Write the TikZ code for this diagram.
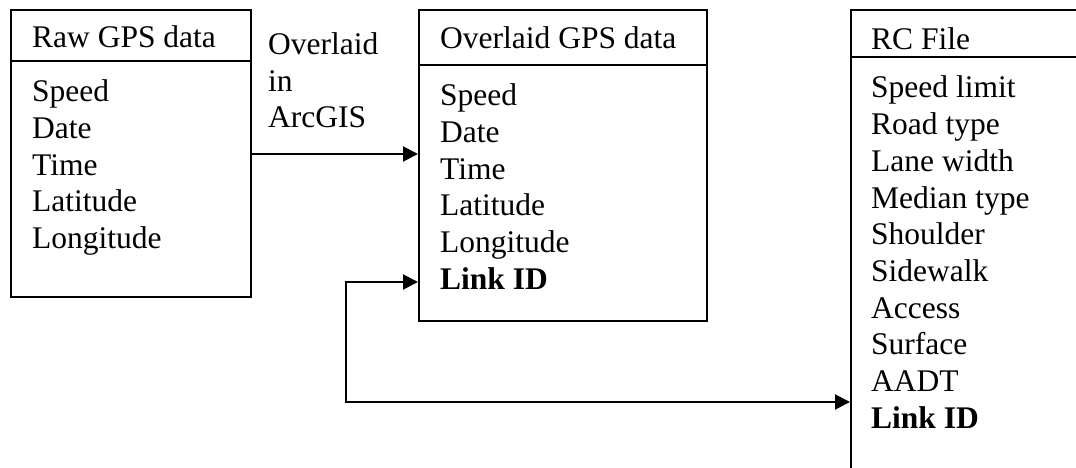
\documentclass[tikz,border=0pt]{standalone}
\usepackage{fontspec}
\setmainfont{Liberation Serif}
\usetikzlibrary{arrows.meta}
\begin{document}
\begin{tikzpicture}[x=1pt,y=-1pt,
  boxline/.style={line width=2pt},
  tbox/.style={draw, line width=2pt, rectangle, inner sep=0pt, anchor=north west},
  lbl/.style={anchor=base west, inner sep=0pt, font=\fontsize{31.5}{36.6}\selectfont},
  tip/.tip={Triangle[length=15pt,width=15pt]},
  conn/.style={line width=2pt, -tip},
  dconn/.style={line width=2pt, tip-tip}]
\path[use as bounding box] (0,0) rectangle (1076,468);
\clip (0,0) rectangle (1076,468);
% boxes
\node[tbox, minimum width=240pt, minimum height=287pt] (raw) at (10,9) {};
\node[tbox, minimum width=288pt, minimum height=311pt] (ovl) at (418,9) {};
\node[tbox, minimum width=300pt, minimum height=520pt] (rc) at (850,9) {};
% dividers
\draw[boxline] (raw.west |- 0,61) -- (raw.east |- 0,61);
\draw[boxline] (ovl.west |- 0,65) -- (ovl.east |- 0,65);
\draw[boxline] (rc.west |- 0,57) -- (rc.east |- 0,57);
% titles
\node[lbl] (rawT) at (32,48) {Raw GPS data};
\node[lbl] (ovlT) at (440,49) {Overlaid GPS data};
\node[lbl] (rcT) at (871,50) {RC File};
% items
\foreach \t [count=\i from 0] in {Speed,Date,Time,Latitude,Longitude}
  \node[lbl] (raw\i) at (32,{102+36.6*\i}) {\t};
\foreach \t [count=\i from 0] in {Speed,Date,Time,Latitude,Longitude,{\textbf{Link ID}}}
  \node[lbl] (ovl\i) at (440,{106+36.6*\i}) {\t};
\foreach \t [count=\i from 0] in {Speed limit,Road type,Lane width,Median type,Shoulder,Sidewalk,Access,Surface,AADT,{\textbf{Link ID}}}
  \node[lbl] (rc\i) at (871,{98+36.7*\i}) {\t};
% connector label
\node[lbl] (l1) at (268,55) {Overlaid};
\node[lbl] (l2) at (268,91.5) {in};
\node[lbl] (l3) at (268,128) {ArcGIS};
% connectors
\coordinate (a1) at (250,154);
\draw[conn] (raw.east |- a1) -- (ovl.west |- a1);
\coordinate (c1) at (346,282);
\coordinate (c2) at (346,402);
\draw[dconn] (ovl.west |- c1) -- (c1) -- (c2) -- (rc.west |- c2);
\end{tikzpicture}
\end{document}
